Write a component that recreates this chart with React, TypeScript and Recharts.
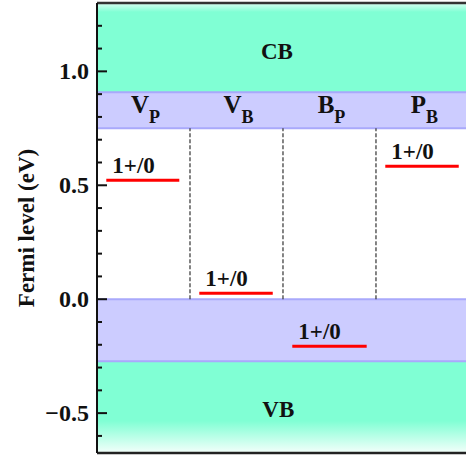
import React from 'react';
import {
  ComposedChart, XAxis, YAxis, ReferenceArea, ReferenceLine, Scatter,
} from 'recharts';

// ---- data ----
const defectNames = ['V', 'V', 'B', 'P'];
const defectSubs = ['P', 'B', 'P', 'B'];
const levelValues = [0.522, 0.026, -0.206, 0.583];
const levelStart = [0.1, 1.1, 2.1, 3.1];
const levelEnd = [0.885, 1.89, 2.9, 3.89];
const levelLabels = ['1+/0', '1+/0', '1+/0', '1+/0'];
const dividers = [1, 2, 3];
const cbMin = 0.908;
const defectBandTop = 0.908;
const defectBandBottom = 0.75;
const vbMax = -0.272;
const yTicks = [-0.6, -0.5, -0.4, -0.3, -0.2, -0.1, 0, 0.1, 0.2, 0.3, 0.4, 0.5, 0.6, 0.7, 0.8, 0.9, 1.0, 1.1, 1.2];
const yTickLabels: Record<string, string> = { '-0.5': '\u22120.5', '0': '0.0', '0.5': '0.5', '1': '1.0' };
const yDomain: [number, number] = [-0.675, 1.3];
const xDomain: [number, number] = [0, 3.968];
const bandLabels = [
  { x: 1.935, y: 1.054, text: 'CB' },
  { x: 1.95, y: -0.516, text: 'VB' },
];

const FONT = '"Liberation Serif", "Times New Roman", serif';
const GREEN = '#80ffd4';
const PURPLE = '#ccccff';
const PURPLE_EDGE = '#a9a9fb';

const columnData = defectNames.map((n, i) => ({ x: i + 0.5, y: 0.83, main: n, sub: defectSubs[i] }));
const levelLabelData = levelValues.map((v, i) => ({ x: levelStart[i], y: v, text: levelLabels[i] }));

const YTick = (props: any) => {
  const { x, y, payload } = props;
  const v = Math.round(payload.value * 10) / 10;
  const key = String(v);
  const major = Math.abs(v * 2 - Math.round(v * 2)) < 1e-6;
  return (
    <g>
      <line x1={x} x2={x + (major ? 10 : 5)} y1={y} y2={y} stroke="#111" strokeWidth={2} />
      {major && yTickLabels[key] !== undefined && (
        <text x={x - 8} y={y + 8} textAnchor="end" fontFamily={FONT} fontWeight="bold" fontSize={24} fill="#111">
          {yTickLabels[key]}
        </text>
      )}
    </g>
  );
};

const YTitle = () => {
  const cy = 228;
  const cx = 34;
  return (
    <text x={cx} y={cy} transform={`rotate(-90, ${cx}, ${cy})`} textAnchor="middle"
      fontFamily={FONT} fontWeight="bold" fontSize={23} fill="#111">
      Fermi level (eV)
    </text>
  );
};

const ColumnLabel = (props: any) => {
  const { cx, cy, payload } = props;
  return (
    <text x={cx + 2} y={cy + 3} textAnchor="middle" fontFamily={FONT} fontWeight="bold" fill="#111">
      <tspan fontSize={25}>{payload.main}</tspan>
      <tspan fontSize={18} dy={10}>{payload.sub}</tspan>
    </text>
  );
};

const LevelLabel = (props: any) => {
  const { cx, cy, payload } = props;
  return (
    <text x={cx + 6} y={cy - 7} textAnchor="start" fontFamily={FONT} fontWeight="bold" fontSize={23} fill="#111">
      {payload.text}
    </text>
  );
};

const BandLabel = (props: any) => {
  const { cx, cy, payload } = props;
  return (
    <text x={cx} y={cy} textAnchor="middle" fontFamily={FONT} fontWeight="bold" fontSize={23} fill="#111">
      {payload.text}
    </text>
  );
};

export default function App() {
  return (
    <div style={{ position: 'absolute', left: 0, top: 0 }}>
      <ComposedChart width={466} height={456} margin={{ top: 3, right: 0, bottom: 3, left: 0 }}>
        <defs>
          <linearGradient id="cbGrad" x1="0" y1="0" x2="0" y2="1">
            <stop offset="0%" stopColor="#dcfff3" />
            <stop offset="10%" stopColor={GREEN} />
            <stop offset="100%" stopColor={GREEN} />
          </linearGradient>
          <linearGradient id="vbGrad" x1="0" y1="0" x2="0" y2="1">
            <stop offset="0%" stopColor={GREEN} />
            <stop offset="65%" stopColor={GREEN} />
            <stop offset="100%" stopColor="#f4fffb" />
          </linearGradient>
        </defs>
        <XAxis type="number" dataKey="x" domain={xDomain} allowDataOverflow height={0} tick={false} tickLine={false}
          axisLine={false} />
        <YAxis type="number" domain={yDomain} allowDataOverflow ticks={yTicks} interval={0} width={97}
          tickSize={0} tickMargin={0} tickLine={false} tick={<YTick />}
          axisLine={{ stroke: '#111', strokeWidth: 2 }} label={{ content: <YTitle /> }} />

        <ReferenceArea y1={cbMin} y2={yDomain[1]} fill="url(#cbGrad)" fillOpacity={1} stroke="none" ifOverflow="hidden" />
        <ReferenceArea y1={defectBandBottom} y2={defectBandTop} fill={PURPLE} fillOpacity={1} stroke="none" />
        <ReferenceArea y1={vbMax} y2={0} fill={PURPLE} fillOpacity={1} stroke="none" />
        <ReferenceArea y1={yDomain[0]} y2={vbMax} fill="url(#vbGrad)" fillOpacity={1} stroke="none" ifOverflow="hidden" />

        {[defectBandTop, defectBandBottom, 0, vbMax].map((v, i) => (
          <ReferenceLine key={`edge${i}`} y={v} stroke={PURPLE_EDGE} strokeWidth={2} />
        ))}

        <ReferenceLine y={yDomain[1]} stroke="#333" strokeWidth={2.5} ifOverflow="visible" />
        <ReferenceLine y={yDomain[0]} stroke="#222" strokeWidth={2.5} ifOverflow="visible" />

        {dividers.map((d) => (
          <ReferenceLine key={`div${d}`} segment={[{ x: d, y: 0 }, { x: d, y: defectBandBottom }]}
            stroke="#333" strokeWidth={1.2} strokeDasharray="4 2" />
        ))}

        {levelValues.map((v, i) => (
          <ReferenceLine key={`lvl${i}`} segment={[{ x: levelStart[i], y: v }, { x: levelEnd[i], y: v }]}
            stroke="#ff0000" strokeWidth={3} />
        ))}

        <Scatter data={columnData} dataKey="y" shape={<ColumnLabel />} isAnimationActive={false} />
        <Scatter data={levelLabelData} dataKey="y" shape={<LevelLabel />} isAnimationActive={false} />
        <Scatter data={bandLabels} dataKey="y" shape={<BandLabel />} isAnimationActive={false} />
      </ComposedChart>
    </div>
  );
}
